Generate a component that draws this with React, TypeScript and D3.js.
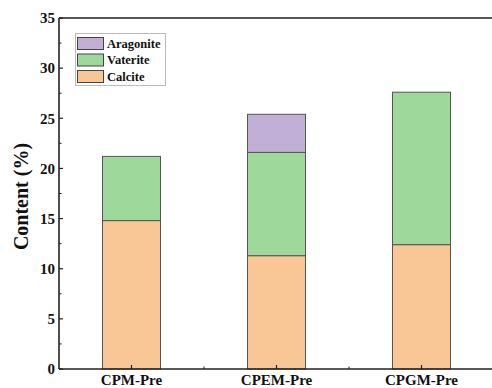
import React from "react";
import * as d3 from "d3";

const categories = ["CPM-Pre", "CPEM-Pre", "CPGM-Pre"];
const seriesNames = ["Calcite", "Vaterite", "Aragonite"];
const calcite = [14.8, 11.3, 12.4];
const vaterite = [6.4, 10.3, 15.2];
const aragonite = [0, 3.8, 0];
const colors = ["#f9c696", "#9fd89b", "#c1afd6"];
const yTicks = [0, 5, 10, 15, 20, 25, 30, 35];

const W = 492, H = 388;
const margin = { left: 59, top: 18, bottom: 19 };
const FONT = "'Liberation Serif', 'Times New Roman', serif";

export default function App() {
  const x = d3.scaleLinear().domain([-0.5, 2.5]).range([margin.left, margin.left + 145 * 3]);
  const y = d3.scaleLinear().domain([0, 35]).range([H - margin.bottom, margin.top]);
  const rows = categories.map((c, i) => ({ cat: c, i, Calcite: calcite[i], Vaterite: vaterite[i], Aragonite: aragonite[i] }));
  const stack = d3.stack<any>().keys(seriesNames)(rows);
  const bw = 58;
  const x0 = margin.left, y0 = y(0);
  const minorY = d3.range(2.5, 35, 5);
  const minorX = [0.5, 1.5];

  return (
    <svg width={W} height={H} style={{ position: "absolute", left: 0, top: 0, background: "#fff" }}>
      {stack.map((s, si) => (
        <g key={si}>
          {s.map((d, i) =>
            d[1] - d[0] > 0 ? (
              <rect key={i} x={x(i) - bw / 2} y={y(d[1])} width={bw} height={y(d[0]) - y(d[1])}
                fill={colors[si]} stroke="#555" strokeWidth={1} />
            ) : null
          )}
        </g>
      ))}
      {/* axes */}
      <line x1={x0} x2={W} y1={y0} y2={y0} stroke="#222" strokeWidth={1.6} />
      <line x1={x0} x2={W} y1={margin.top} y2={margin.top} stroke="#222" strokeWidth={1.6} />
      <line x1={x0} x2={x0} y1={margin.top} y2={y0} stroke="#222" strokeWidth={1.6} />
      {yTicks.map((t) => (
        <g key={t}>
          <line x1={x0} x2={x0 + 4} y1={y(t)} y2={y(t)} stroke="#222" strokeWidth={1.2} />
          <text x={x0 - 4} y={y(t)} dy="0.35em" textAnchor="end" fontFamily={FONT} fontWeight="bold" fontSize={15} fill="#111">{t}</text>
        </g>
      ))}
      {minorY.map((t) => (
        <line key={t} x1={x0} x2={x0 + 2.5} y1={y(t)} y2={y(t)} stroke="#222" strokeWidth={1} />
      ))}
      {categories.map((c, i) => (
        <g key={c}>
          <line x1={x(i)} x2={x(i)} y1={y0} y2={y0 - 4} stroke="#222" strokeWidth={1.2} />
          <text x={x(i)} y={y0 + 16} textAnchor="middle" fontFamily={FONT} fontWeight="bold" fontSize={15} fill="#111">{c}</text>
        </g>
      ))}
      {minorX.map((t) => (
        <line key={t} x1={x(t)} x2={x(t)} y1={y0} y2={y0 - 2.5} stroke="#222" strokeWidth={1} />
      ))}
      <text transform={`translate(28,${(margin.top + y0) / 2 + 3}) rotate(-90)`} textAnchor="middle"
        fontFamily={FONT} fontWeight="bold" fontSize={20} fill="#111">Content (%)</text>
      {/* legend */}
      <rect x={75.5} y={33.5} width={90} height={52} fill="#fff" stroke="#bbb" strokeWidth={1} />
      {[2, 1, 0].map((si, k) => (
        <g key={si}>
          <rect x={77.5} y={37.5 + k * 16.5} width={26} height={12} fill={colors[si]} stroke="#444" strokeWidth={1} />
          <text x={107} y={43.5 + k * 16.5} dy="0.35em" fontFamily={FONT} fontWeight="bold" fontSize={12.5} fill="#111">{seriesNames[si]}</text>
        </g>
      ))}
    </svg>
  );
}
